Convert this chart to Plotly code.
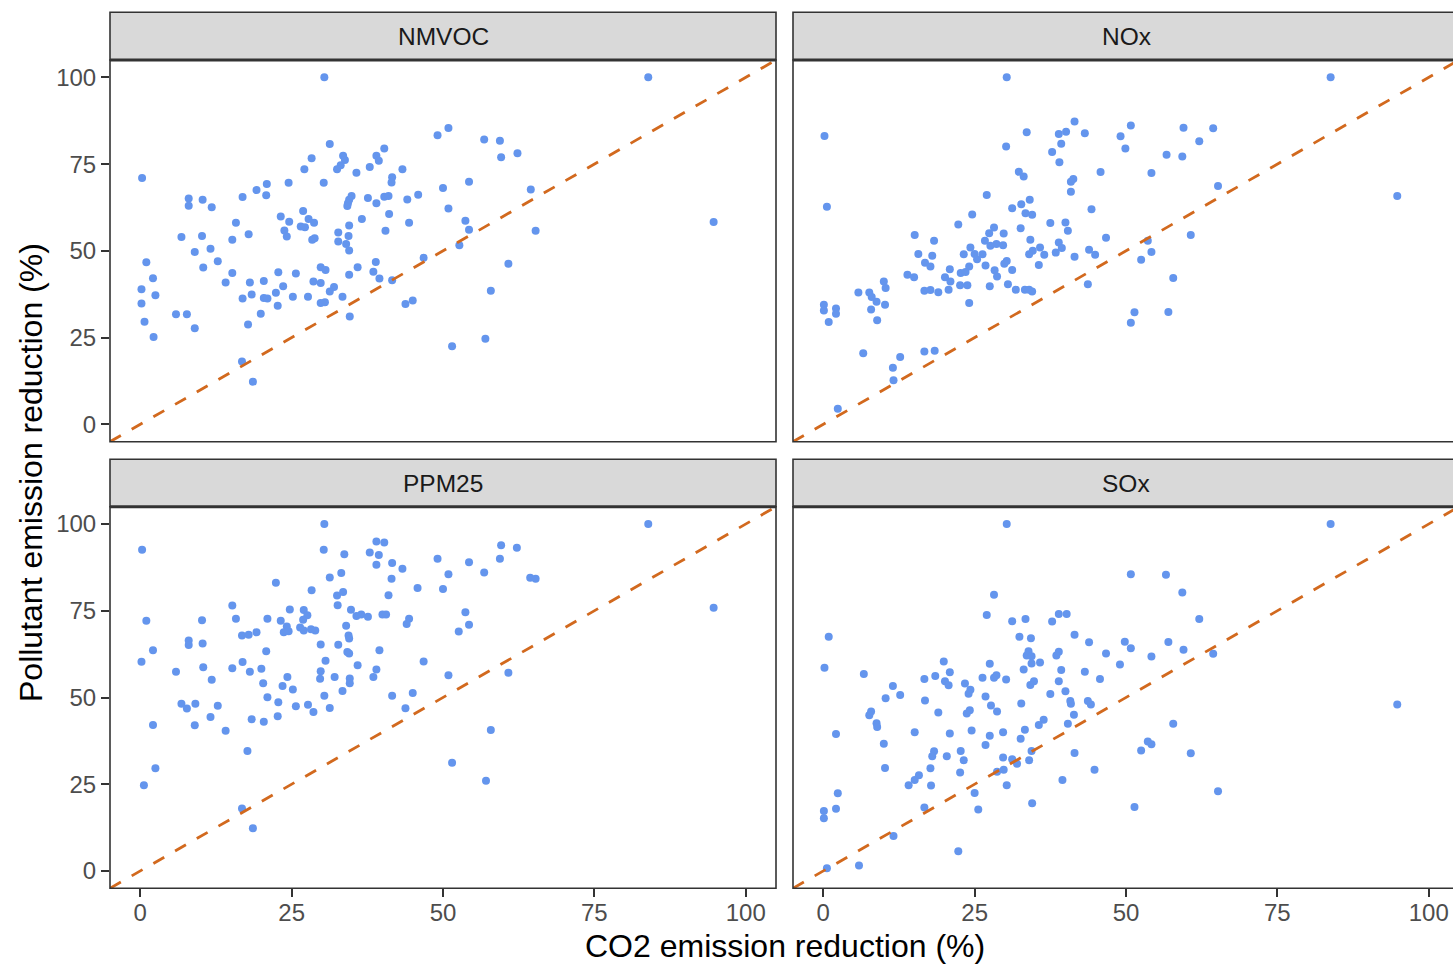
import plotly.graph_objects as go

# ---------------- data ----------------
panels = ["NMVOC", "NOx", "PPM25", "SOx"]

nmvoc_x = [30.4, 0.3, 28.3, 27.1, 30.3, 24.5, 20.9, 19.2, 20.8, 16.9, 8.0, 8.0, 10.3, 11.8, 26.9, 23.2, 27.8, 28.7,
           24.6, 15.8, 26.5, 27.2, 23.8, 24.2, 17.9, 6.8, 10.2, 15.2, 28.4, 28.8, 9.0, 11.6, 1.0, 12.8, 10.4, 29.8,
           30.6, 15.2, 22.8, 25.7, 2.1, 14.1, 18.1, 20.4, 28.6, 29.8, 0.2, 23.6, 22.4, 2.5, 16.9, 18.4, 20.4, 21.0,
           25.2, 27.7, 0.2, 29.8, 30.5, 22.7, 5.9, 7.7, 19.9, 0.7, 17.8, 9.0, 2.2, 16.8, 18.6,
           31.3, 49.1, 50.9, 56.8, 59.4, 59.6, 62.3, 33.5, 33.8, 33.1, 32.5, 35.7, 37.9, 39.0, 39.4, 40.3, 43.3,
           41.6, 41.5, 50.0, 54.3, 64.5, 34.9, 34.5, 34.3, 34.2, 37.6, 39.0, 40.3, 41.0, 44.1, 45.9, 50.9, 41.1,
           36.6, 44.4, 53.7, 54.3, 65.3, 34.5, 32.7, 34.4, 32.7, 34.0, 34.5, 40.5, 52.7, 46.8, 38.9, 35.9, 38.5,
           34.5, 39.5, 41.6, 60.8, 32.0, 31.3, 33.4, 43.8, 45.0, 57.9, 34.6, 57.0, 51.5, 83.9, 94.7]
nmvoc_y = [100, 71.0, 76.7, 73.5, 69.6, 69.6, 69.3, 67.5, 66.0, 65.5, 65.1, 63.0, 64.7, 62.6, 61.5, 59.9, 59.2, 58.1,
           58.4, 58.1, 57.0, 56.8, 55.9, 54.1, 54.8, 54.0, 54.3, 53.2, 53.2, 53.6, 49.7, 50.6, 46.7, 47.0, 45.2, 45.3,
           44.5, 43.6, 43.8, 43.5, 42.1, 40.9, 40.9, 41.3, 41.2, 40.7, 38.9, 39.8, 37.9, 37.2, 36.3, 37.4, 36.4, 36.3,
           36.8, 36.8, 34.8, 35.0, 35.2, 34.2, 31.7, 31.7, 31.9, 29.6, 28.8, 27.7, 25.2, 18.1, 12.3,
           80.8, 83.3, 85.4, 82.1, 81.7, 77.0, 78.1, 77.4, 76.2, 74.7, 73.5, 72.5, 74.2, 77.4, 76.0, 79.5, 73.5,
           71.2, 69.7, 68.1, 69.9, 67.7, 65.8, 64.7, 63.7, 62.9, 65.2, 63.7, 65.6, 65.8, 64.8, 66.2, 62.2, 60.6,
           59.2, 58.1, 58.7, 56.1, 55.8, 57.3, 55.3, 54.3, 52.7, 52.0, 50.1, 55.8, 51.6, 48.0, 46.8, 45.3, 44.0,
           43.1, 42.0, 41.5, 46.3, 39.6, 38.3, 36.8, 34.7, 35.7, 38.5, 31.1, 24.7, 22.5, 100, 58.3]

nox_x = [30.3, 0.2, 0.6, 30.2, 27.0, 24.6, 22.3, 28.2, 29.8, 27.4, 26.7, 27.6, 28.6, 29.7, 15.1, 18.3, 15.7, 18.0,
         16.8, 17.7, 24.3, 23.2, 25.0, 25.4, 26.3, 24.1, 26.8, 30.3, 29.9, 28.3, 28.7, 20.9, 22.7, 23.5, 20.1, 21.0,
         22.6, 23.8, 20.7, 27.5, 30.5, 24.1, 13.9, 15.0, 10.0, 10.3, 16.7, 17.7, 19.0, 5.8, 7.6, 8.0, 8.8, 10.2,
         7.9, 8.9, 0.1, 0.1, 2.1, 2.1, 0.9, 6.6, 12.7, 11.5, 11.6, 16.7, 18.4, 2.4,
         31.2, 33.6, 41.5, 38.9, 40.1, 43.2, 39.3, 37.8, 39.0, 49.1, 50.8, 49.9, 59.5, 64.4, 62.1, 56.7, 59.3,
         54.2, 45.8, 32.3, 33.1, 41.3, 40.9, 40.9, 65.2, 34.1, 32.7, 33.4, 34.5, 44.3, 32.6, 37.5, 40.0, 40.4,
         46.7, 60.7, 34.2, 38.9, 39.4, 38.4, 35.8, 34.6, 34.0, 36.5, 35.6, 41.5, 43.9, 44.9, 53.6, 54.2, 52.5,
         31.2, 43.7, 31.8, 33.3, 34.0, 34.5, 57.8, 51.4, 50.8, 57.0, 83.8, 94.8]
nox_y = [100, 83.1, 62.7, 80.1, 66.1, 60.5, 57.6, 56.7, 55.0, 55.1, 52.9, 51.5, 52.0, 51.6, 54.6, 52.9, 49.1, 48.6,
         46.6, 45.5, 51.0, 49.0, 49.1, 47.6, 49.0, 45.5, 45.8, 47.1, 46.3, 44.4, 42.6, 44.7, 43.6, 43.9, 42.4, 41.2,
         40.1, 40.1, 38.8, 39.8, 40.4, 35.0, 43.1, 42.4, 41.2, 39.3, 38.5, 38.7, 38.1, 38.0, 38.0, 36.7, 35.3, 34.5,
         33.1, 30.0, 34.5, 32.8, 33.4, 31.9, 29.5, 20.5, 19.4, 16.3, 12.7, 21.0, 21.2, 4.5,
         62.3, 84.2, 87.3, 83.7, 84.3, 83.9, 80.9, 78.5, 75.5, 83.0, 86.1, 79.5, 85.5, 85.3, 81.6, 77.7, 77.2,
         72.4, 72.7, 72.8, 71.4, 70.7, 69.9, 67.0, 68.7, 64.7, 63.4, 60.8, 60.4, 62.0, 56.5, 58.0, 58.2, 55.8,
         53.8, 54.6, 53.2, 52.4, 50.8, 49.5, 51.0, 50.0, 49.0, 48.9, 45.9, 48.3, 50.3, 48.9, 52.9, 49.7, 47.4,
         44.5, 40.4, 38.8, 38.8, 38.8, 38.3, 42.2, 32.3, 29.3, 32.4, 100, 65.8]

ppm25_x = [30.4, 30.3, 0.3, 22.4, 28.3, 15.2, 15.8, 21.0, 24.7, 27.0, 27.6, 26.9, 23.2, 24.2, 23.7, 24.5, 26.4, 27.0,
           28.2, 28.9, 16.8, 17.9, 19.2, 10.2, 1.0, 8.0, 8.0, 10.3, 2.1, 20.8, 29.8, 0.2, 5.9, 10.4, 11.8, 15.2,
           16.9, 18.1, 20.0, 30.6, 29.8, 29.7, 24.3, 23.5, 25.2, 20.3, 21.0, 22.8, 25.7, 27.7, 28.6, 30.4, 22.7,
           20.4, 18.4, 12.8, 11.6, 14.1, 9.0, 6.8, 7.7, 9.1, 2.1, 17.7, 2.5, 0.6, 16.8, 18.6,
           31.3, 39.0, 40.3, 33.7, 37.9, 39.4, 39.0, 41.6, 43.3, 33.2, 41.5, 41.0, 45.8, 49.1, 50.9, 50.0, 54.3,
           56.8, 59.6, 62.2, 59.4, 64.4, 65.3, 33.5, 32.5, 32.6, 34.8, 35.7, 36.5, 37.6, 40.0, 40.6, 44.4, 44.0,
           53.7, 54.3, 52.6, 34.0, 34.4, 34.5, 32.7, 34.2, 34.5, 39.5, 46.8, 35.9, 39.0, 38.5, 32.1, 34.6, 34.6,
           33.4, 50.9, 60.8, 41.6, 45.0, 43.8, 31.3, 57.9, 51.5, 57.1, 83.9, 94.7]
ppm25_y = [100, 92.6, 92.6, 83.1, 80.9, 76.5, 72.7, 72.7, 75.4, 75.2, 73.7, 72.4, 72.1, 70.5, 68.8, 69.1, 70.2, 69.3,
           69.7, 69.3, 67.9, 68.1, 68.8, 72.3, 72.1, 66.4, 65.1, 65.6, 63.6, 63.3, 65.3, 60.3, 57.4, 58.7, 55.1, 58.4,
           60.2, 57.4, 58.3, 60.6, 57.6, 55.4, 55.9, 53.3, 52.3, 54.1, 50.1, 48.6, 47.5, 47.9, 45.8, 50.5, 44.6,
           43.0, 43.7, 47.6, 44.4, 40.4, 42.0, 48.2, 46.8, 48.2, 42.1, 34.6, 29.6, 24.7, 18.0, 12.3,
           84.6, 95.0, 94.7, 91.3, 91.8, 91.1, 88.3, 88.8, 87.1, 85.9, 84.2, 79.5, 81.6, 90.0, 85.5, 81.3, 89.0,
           86.0, 93.9, 93.2, 90.0, 84.5, 84.2, 80.4, 79.4, 76.6, 75.3, 73.5, 73.9, 73.3, 73.9, 73.9, 72.7, 71.2,
           74.6, 71.0, 69.0, 70.7, 67.9, 67.0, 65.2, 63.1, 62.7, 63.6, 60.4, 59.3, 58.1, 55.9, 55.9, 55.5, 54.1,
           51.9, 56.4, 57.1, 50.5, 51.3, 46.9, 47.0, 40.6, 31.2, 26.0, 100, 75.9]

sox_x = [30.3, 28.2, 27.0, 0.9, 0.2, 6.7, 19.9, 20.9, 18.5, 16.7, 20.1, 20.7, 27.5, 26.3, 28.2, 28.6, 30.2, 23.4,
         24.3, 24.0, 26.8, 27.7, 28.7, 11.5, 12.7, 10.3, 16.8, 19.0, 7.9, 7.6, 8.8, 8.9, 23.7, 24.2, 15.1, 20.9,
         24.5, 29.7, 27.5, 26.8, 2.1, 10.0, 18.3, 18.0, 20.4, 22.7, 23.2, 29.7, 28.7, 29.8, 30.3, 10.2, 17.7, 22.6,
         15.8, 15.1, 14.1, 17.8, 25.0, 25.6, 16.7, 2.4, 2.1, 0.1, 0.1, 11.6, 22.3, 5.9, 0.6,
         31.2, 50.8, 56.6, 59.3, 62.1, 33.4, 37.8, 38.9, 40.2, 32.4, 34.3, 41.5, 43.9, 49.8, 50.8, 57.0, 59.5,
         64.4, 54.2, 46.7, 49.0, 33.9, 33.6, 34.4, 34.4, 35.8, 38.9, 38.5, 33.1, 39.3, 43.2, 45.7, 38.9, 34.8,
         34.2, 40.0, 37.5, 32.7, 40.8, 40.9, 43.7, 44.2, 41.4, 36.4, 35.6, 40.4, 33.3, 32.6, 57.8, 53.6, 54.2,
         52.5, 60.7, 34.4, 41.5, 31.2, 32.0, 34.0, 44.8, 39.5, 34.5, 51.4, 65.2, 83.8, 94.8]
sox_y = [100, 79.6, 73.8, 67.5, 58.6, 56.8, 60.4, 57.3, 56.2, 55.3, 54.7, 53.5, 59.7, 55.7, 55.7, 56.4, 55.2, 54.0,
         52.2, 51.1, 50.3, 47.7, 46.0, 53.3, 50.7, 49.8, 49.1, 45.7, 46.0, 44.9, 42.6, 41.5, 45.4, 46.3, 40.0, 39.6,
         40.5, 40.0, 39.0, 36.3, 39.5, 36.7, 34.5, 33.1, 33.1, 34.6, 31.9, 32.7, 28.6, 29.2, 24.7, 29.7, 29.6, 28.4,
         27.6, 26.2, 24.7, 24.6, 22.5, 17.7, 18.3, 22.4, 17.9, 17.3, 15.2, 10.1, 5.7, 1.6, 0.8,
         72.0, 85.5, 85.4, 80.3, 72.6, 72.6, 71.9, 74.1, 74.1, 67.5, 67.1, 68.1, 65.9, 66.1, 64.2, 66.0, 63.8,
         62.6, 61.8, 62.7, 59.5, 63.3, 62.1, 61.9, 59.8, 60.1, 63.2, 62.1, 58.1, 57.9, 57.4, 55.3, 54.7, 54.7,
         53.6, 51.8, 51.0, 48.3, 49.0, 48.2, 49.0, 48.0, 45.0, 43.6, 42.1, 42.4, 40.7, 38.1, 42.4, 37.3, 36.5,
         34.7, 33.9, 34.6, 34.0, 32.2, 30.9, 31.9, 29.2, 26.2, 19.5, 18.4, 23.0, 100, 48.0]

tick_vals = [0, 25, 50, 75, 100]
tick_text = ["0", "25", "50", "75", "100"]
axis_range = [-5, 105]

# ---------------- layout geometry ----------------
W, H = 1453, 964
FONT = "Liberation Sans, Arial, sans-serif"
POINT_COLOR = "#6495ED"
LINE_COLOR = "#D2691E"
BORDER = "#333333"

def px_x(p):
    return p / W

def px_y(p):
    return 1 - p / H

col_dom = [[px_x(110), px_x(776)], [px_x(793), 1.0]]
row_dom = [[px_y(441.7), px_y(60)], [px_y(888.3), px_y(506.7)]]
strip_dom = [[px_y(60), px_y(12.3)], [px_y(506.7), px_y(459.3)]]
right_cut = px_x(1459)
right_range = [-5, -5 + (1453 - 793) / (666 / 110)]

datasets = [(nmvoc_x, nmvoc_y), (nox_x, nox_y), (ppm25_x, ppm25_y), (sox_x, sox_y)]

fig = go.Figure()
shapes = []
annotations = []
layout_axes = {}

for i, name in enumerate(panels):
    r, c = divmod(i, 2)
    k = "" if i == 0 else str(i + 1)
    xs, ys = datasets[i]
    fig.add_trace(go.Scatter(
        x=xs, y=ys, mode="markers", xaxis="x" + k, yaxis="y" + k,
        marker=dict(color=POINT_COLOR, size=8, line=dict(width=0)),
        hoverinfo="x+y", showlegend=False))
    fig.add_trace(go.Scatter(
        x=axis_range, y=axis_range, mode="lines", xaxis="x" + k, yaxis="y" + k,
        line=dict(color=LINE_COLOR, width=2.8, dash="12.5px,12.5px"),
        hoverinfo="skip", showlegend=False))

    xr = axis_range if c == 0 else right_range
    layout_axes["xaxis" + k] = dict(
        domain=col_dom[c], anchor="y" + k, range=xr, showgrid=False, zeroline=False,
        showline=False, tickmode="array", tickvals=tick_vals, ticktext=tick_text,
        ticks="outside" if r == 1 else "", ticklen=8, tickwidth=1.6, tickcolor=BORDER,
        showticklabels=(r == 1), ticklabelstandoff=-5,
        tickfont=dict(family=FONT, size=24, color="#4D4D4D"), fixedrange=True)
    layout_axes["yaxis" + k] = dict(
        domain=row_dom[r], anchor="x" + k, range=axis_range, showgrid=False, zeroline=False,
        showline=False, tickmode="array", tickvals=tick_vals, ticktext=tick_text,
        ticks="outside" if c == 0 else "", ticklen=8, tickwidth=1.6, tickcolor=BORDER,
        showticklabels=(c == 0),
        tickfont=dict(family=FONT, size=24, color="#4D4D4D"), fixedrange=True)

    x0 = col_dom[c][0]
    x1 = col_dom[c][1] if c == 0 else right_cut
    # panel border
    shapes.append(dict(type="rect", xref="paper", yref="paper", x0=x0, x1=x1,
                       y0=row_dom[r][0], y1=row_dom[r][1],
                       line=dict(color=BORDER, width=1.6), fillcolor="rgba(0,0,0,0)", layer="above"))
    # strip
    shapes.append(dict(type="rect", xref="paper", yref="paper", x0=x0, x1=x1,
                       y0=strip_dom[r][0], y1=strip_dom[r][1],
                       line=dict(color=BORDER, width=1.6), fillcolor="#D9D9D9", layer="below"))
    # thicker separator under strip
    shapes.append(dict(type="line", xref="paper", yref="paper", x0=x0, x1=x1,
                       y0=strip_dom[r][0], y1=strip_dom[r][0],
                       line=dict(color=BORDER, width=3), layer="above"))
    annotations.append(dict(
        text=name, xref="paper", yref="paper",
        x=(col_dom[c][0] + (col_dom[c][1] if c == 0 else right_cut)) / 2,
        y=(strip_dom[r][0] + strip_dom[r][1]) / 2,
        showarrow=False, xanchor="center", yanchor="middle",
        font=dict(family=FONT, size=24.5, color="#1A1A1A")))

annotations.append(dict(
    text="CO2 emission reduction (%)", xref="paper", yref="paper",
    x=(px_x(110) + right_cut) / 2, y=px_y(946), showarrow=False,
    xanchor="center", yanchor="middle", font=dict(family=FONT, size=32, color="#000000")))
annotations.append(dict(
    text="Pollutant emission reduction (%)", xref="paper", yref="paper",
    x=px_x(31), y=px_y(473), showarrow=False, textangle=-90,
    xanchor="center", yanchor="middle", font=dict(family=FONT, size=32, color="#000000")))

fig.update_layout(
    width=W, height=H, autosize=False,
    margin=dict(l=0, r=0, t=0, b=0, pad=0),
    paper_bgcolor="white", plot_bgcolor="white",
    showlegend=False, shapes=shapes, annotations=annotations,
    font=dict(family=FONT),
    **layout_axes)

fig.write_html("out.html", config={"displayModeBar": False},
               post_script="document.body.style.margin='0';document.body.style.overflow='hidden';")
